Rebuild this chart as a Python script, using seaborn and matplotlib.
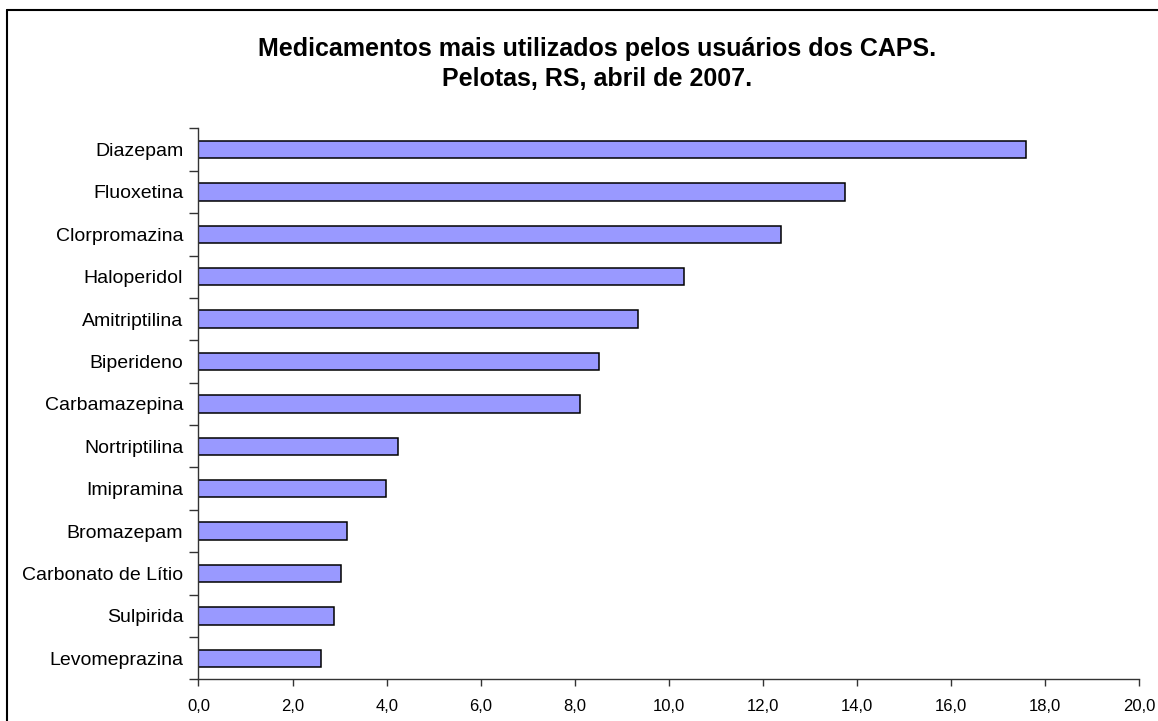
import matplotlib
matplotlib.use("Agg")
import matplotlib.pyplot as plt
import seaborn as sns
import numpy as np
import pandas as pd
from matplotlib.lines import Line2D
from matplotlib.ticker import FuncFormatter

sns.set_theme(style="white")
plt.rcParams["font.family"] = ["Liberation Sans", "DejaVu Sans"]

medicamentos = [
    "Diazepam", "Fluoxetina", "Clorpromazina", "Haloperidol", "Amitriptilina",
    "Biperideno", "Carbamazepina", "Nortriptilina", "Imipramina", "Bromazepam",
    "Carbonato de Lítio", "Sulpirida", "Levomeprazina",
]
percentuais = [17.6, 13.75, 12.38, 10.31, 9.35, 8.52, 8.11, 4.25, 3.99, 3.16, 3.02, 2.88, 2.61]

df = pd.DataFrame({"medicamento": medicamentos, "pct": percentuais})

fig = plt.figure(figsize=(11.58, 7.21), dpi=100)
ax = fig.add_axes([0.1714, 0.0576, 0.8125, 0.7644])

sns.barplot(data=df, x="pct", y="medicamento", ax=ax, color="#9999FF",
            saturation=1, width=0.41, edgecolor="black", linewidth=1.1)

ax.set_xlim(0, 20)
ax.set_ylim(len(medicamentos) - 0.5, -0.5)
ax.set_xticks(np.arange(0, 21, 2))
ax.xaxis.set_major_formatter(FuncFormatter(lambda v, p: f"{v:.1f}".replace(".", ",")))
ax.set_xlabel("")
ax.set_ylabel("")

# category ticks sit between the bars, labels sit on the bars
ax.set_yticks(np.arange(-0.5, len(medicamentos), 1), minor=True)
ax.tick_params(axis="y", which="major", length=0, pad=11, labelsize=14, labelcolor="black")
ax.tick_params(axis="y", which="minor", left=True, length=6.5, width=1, color="#333333")
ax.tick_params(axis="x", which="major", bottom=True, length=5, width=1, color="#333333",
               pad=9, labelsize=12, labelcolor="black")

for s in ["top", "right"]:
    ax.spines[s].set_visible(False)
for s in ["left", "bottom"]:
    ax.spines[s].set_color("#333333")
    ax.spines[s].set_linewidth(1)

fig.text(0.5155, 0.911, "Medicamentos mais utilizados pelos usuários dos CAPS.\nPelotas, RS, abril de 2007.",
         ha="center", va="center", fontsize=18, fontweight="bold", linespacing=1.3, color="black")

# chart-area border (left and top edges visible)
fig.add_artist(Line2D([7 / 1158, 7 / 1158], [0, 1 - 10 / 721], transform=fig.transFigure,
                      color="black", lw=1.5))
fig.add_artist(Line2D([7 / 1158, 1], [1 - 10 / 721, 1 - 10 / 721], transform=fig.transFigure,
                      color="black", lw=1.5))

fig.savefig("out.png", dpi=100, facecolor="white")
